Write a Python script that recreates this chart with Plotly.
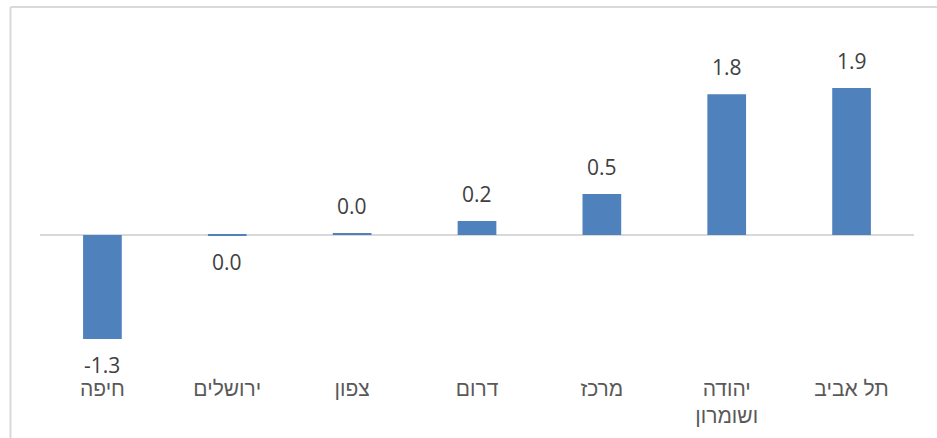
import plotly.graph_objects as go

categories = ["חיפה", "ירושלים", "צפון", "דרום", "מרכז", "יהודה<br>ושומרון", "תל אביב"]
values = [-1.345, -0.01, 0.02, 0.18, 0.53, 1.82, 1.90]

def fmt(v):
    s = f"{v:.1f}"
    return "0.0" if s == "-0.0" else s

labels = [fmt(v) for v in values]

NUM_FONT = "Open Sans, Liberation Sans, sans-serif"
CAT_FONT = "Liberation Sans, Arial, DejaVu Sans, sans-serif"
W, H = 937, 438
L, R, T, B = 40, 23, 20, 73
pw, ph = W - L - R, H - T - B

fig = go.Figure()
fig.add_trace(go.Bar(
    x=categories, y=values, width=0.31,
    marker=dict(color="#4f81bd", line=dict(width=0)),
    hoverinfo="skip",
))

for c, v, t in zip(categories, values, labels):
    pos = v >= 0
    fig.add_annotation(
        x=c, y=v, text=t, showarrow=False,
        yanchor="bottom" if pos else "top",
        yshift=12 if pos else -11,
        borderpad=0,
        font=dict(family=NUM_FONT, size=21, color="#404040"),
    )

def px_x(p):
    return (p - L) / pw

def px_y(p):
    return (H - B - p) / ph

# chart-area border (top and left edges visible)
border = dict(color="#d9d9d9", width=2)
fig.add_shape(type="line", xref="paper", yref="paper",
              x0=px_x(10.5), x1=px_x(10.5), y0=px_y(7), y1=px_y(440), line=border)
fig.add_shape(type="line", xref="paper", yref="paper",
              x0=px_x(10.5), x1=px_x(940), y0=px_y(7), y1=px_y(7), line=border)

fig.update_layout(
    width=W, height=H,
    margin=dict(l=L, r=R, t=T, b=B),
    paper_bgcolor="white", plot_bgcolor="white",
    showlegend=False,
    bargap=0.69,
    xaxis=dict(
        showgrid=False, showline=False, zeroline=False, ticks="",
        tickfont=dict(family=CAT_FONT, size=21, color="#595959"),
        ticklabelstandoff=9,
        fixedrange=True,
    ),
    yaxis=dict(
        range=[-1.68, 2.778], showgrid=False, showticklabels=False,
        zeroline=True, zerolinecolor="#d9d9d9", zerolinewidth=1.5,
        showline=False, ticks="", fixedrange=True,
    ),
)

fig.write_html("out.html", config={"displayModeBar": False},
               post_script="document.body.style.margin='0';")
